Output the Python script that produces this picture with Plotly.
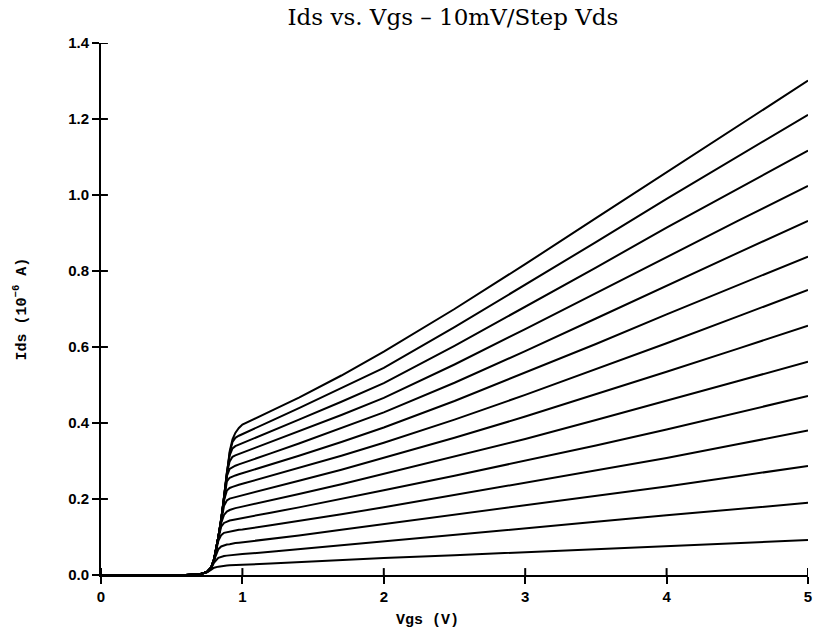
import plotly.graph_objects as go

# Gate voltage sample points (V)
vgs = [0.0, 0.6, 0.7, 0.75, 0.78, 0.8, 0.83, 0.85, 0.87, 0.89, 0.91, 0.93, 0.95,
       0.975, 1.0, 1.2, 1.4, 1.7, 2.0, 2.5, 3.0, 3.5, 4.0, 4.5, 5.0]

# Drain current (10^-6 A), one list per Vds step (10 mV to 140 mV)
ids_10mv = [0, 0, .002, .007, .014, .019, .022, .0235, .024, .025, .0255, .026, .026,
            .0265, .027, .030, .034, .039, .045, .052, .060, .068, .077, .084, .092]
ids_20mv = [0, 0, .002, .008, .019, .033, .045, .048, .050, .051, .052, .053, .0535,
            .054, .055, .061, .068, .078, .089, .106, .123, .140, .157, .173, .190]
ids_30mv = [0, 0, .002, .008, .020, .038, .068, .075, .078, .080, .081, .083, .084,
            .085, .086, .095, .104, .119, .134, .159, .184, .208, .233, .260, .287]
ids_40mv = [0, 0, .002, .008, .020, .041, .090, .105, .111, .113, .115, .116, .117,
            .119, .120, .131, .142, .160, .178, .210, .243, .275, .308, .344, .380]
ids_50mv = [0, 0, .002, .008, .020, .042, .097, .127, .137, .141, .1435, .145, .1465,
            .148, .150, .164, .178, .200, .223, .261, .300, .341, .383, .427, .471]
ids_60mv = [0, 0, .002, .008, .020, .042, .099, .137, .158, .167, .171, .174, .176,
            .178, .180, .196, .213, .239, .266, .311, .358, .408, .460, .510, .561]
ids_70mv = [0, 0, .002, .008, .020, .042, .100, .143, .182, .196, .201, .203, .205,
            .2075, .210, .229, .248, .277, .308, .361, .417, .475, .535, .595, .656]
ids_80mv = [0, 0, .002, .008, .020, .042, .100, .145, .197, .222, .229, .232, .235,
            .2375, .240, .261, .282, .314, .348, .409, .474, .541, .610, .680, .750]
ids_90mv = [0, 0, .002, .008, .020, .042, .100, .145, .202, .246, .256, .260, .262,
            .265, .268, .291, .314, .350, .388, .458, .532, .608, .686, .762, .838]
ids_100mv = [0, 0, .002, .008, .020, .042, .100, .145, .204, .260, .279, .284, .2875,
             .291, .294, .320, .346, .386, .428, .506, .589, .675, .762, .847, .932]
ids_110mv = [0, 0, .002, .008, .020, .042, .100, .145, .205, .267, .299, .311, .315,
             .3185, .322, .350, .378, .421, .466, .554, .647, .742, .838, .931, 1.024]
ids_120mv = [0, 0, .002, .008, .020, .042, .100, .145, .205, .270, .315, .333, .339,
             .343, .347, .378, .409, .456, .505, .603, .705, .809, .914, 1.016, 1.117]
ids_130mv = [0, 0, .002, .008, .020, .042, .100, .145, .205, .270, .321, .350, .361,
             .3665, .371, .405, .439, .491, .545, .652, .763, .876, .990, 1.101, 1.211]
ids_140mv = [0, 0, .002, .008, .020, .042, .100, .145, .205, .270, .325, .357, .374,
             .387, .396, .431, .467, .525, .588, .700, .818, .939, 1.060, 1.180, 1.301]

curves = [ids_10mv, ids_20mv, ids_30mv, ids_40mv, ids_50mv, ids_60mv, ids_70mv,
          ids_80mv, ids_90mv, ids_100mv, ids_110mv, ids_120mv, ids_130mv, ids_140mv]

x_ticks = [0, 1, 2, 3, 4, 5]
y_ticks = [0.0, 0.2, 0.4, 0.6, 0.8, 1.0, 1.2, 1.4]

fig = go.Figure()
for ids in curves:
    fig.add_trace(go.Scatter(x=vgs, y=ids, mode="lines",
                             line=dict(color="black", width=2),
                             showlegend=False, hoverinfo="skip"))

tick_font = dict(family="Liberation Sans", size=15, color="black", weight="bold")
label_font = dict(family="Liberation Mono", size=15, color="black", weight="bold")
axis_common = dict(showgrid=False, zeroline=False, showline=True,
                   linecolor="black", linewidth=2, tickcolor="black",
                   tickwidth=2, ticklen=7, ticks="outside")

fig.update_layout(
    width=822, height=638,
    margin=dict(l=101, r=10, t=43, b=63),
    paper_bgcolor="white", plot_bgcolor="white",
    title=dict(text="Ids vs. Vgs \u2013 10mV/Step Vds",
               font=dict(family="DejaVu Serif", size=23, color="black"),
               x=0.551, xanchor="center", y=0.974, yanchor="middle"),
    xaxis=dict(range=[0, 5], tickvals=x_ticks,
               ticktext=[str(v) for v in x_ticks], tickfont=tick_font,
               **axis_common),
    yaxis=dict(range=[0, 1.4], tickvals=y_ticks,
               ticktext=[f"{v:.1f}" for v in y_ticks], tickfont=tick_font,
               **axis_common),
)

# axis titles
fig.add_annotation(text="Vgs (V)", xref="paper", yref="paper",
                   x=0.462, y=-0.086, xanchor="center", yanchor="middle",
                   showarrow=False, font=label_font)
fig.add_annotation(text="Ids (10<sup>\u22126</sup> A)", xref="paper", yref="paper",
                   x=-0.114, y=0.5, xanchor="center", yanchor="middle",
                   textangle=-90, showarrow=False, font=label_font)

# inner half of each tick, so the marks cross the axis lines
for v in x_ticks:
    fig.add_shape(type="line", xref="x", yref="y domain", x0=v, x1=v,
                  y0=0, y1=0.013, layer="above",
                  line=dict(color="black", width=2))
for v in y_ticks:
    fig.add_shape(type="line", xref="x domain", yref="y", y0=v, y1=v,
                  x0=0, x1=0.0098, layer="above",
                  line=dict(color="black", width=2))

fig.write_html("out.html")
